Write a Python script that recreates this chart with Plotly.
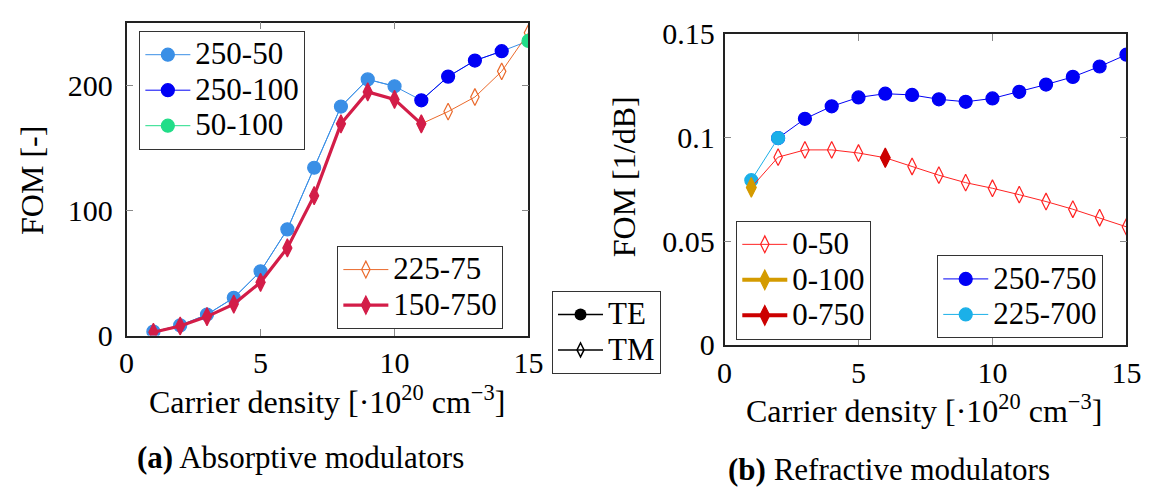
import plotly.graph_objects as go

W, H = 1162, 502

# Carrier density [1e20 cm^-3]
density = list(range(1, 16))

# (a) Absorptive modulators: best FOM at each carrier density
abs_te_fom = [3.1, 8.1, 16.8, 30.1, 51.3, 84.8, 134.0, 182.9, 204.6, 199.1,
              187.9, 206.8, 219.6, 227.1, 235.3]
abs_tm_fom = [2.6, 7.6, 15.1, 25.1, 42.5, 70.0, 111.7, 169.1, 194.6, 188.6,
              169.1, 178.9, 190.5, 211.0, 241.8]
# design giving the best FOM: (label, polarisation, first index, last index),
# listed in drawing order
abs_designs = [
    ("250-50", "TE", 0, 9),
    ("225-75", "TM", 10, 14),
    ("150-750", "TM", 0, 10),
    ("250-100", "TE", 10, 13),
    ("50-100", "TE", 14, 14),
]

# (b) Refractive modulators
ref_te_fom = [0.0794, 0.0997, 0.1090, 0.1150, 0.1193, 0.1211, 0.1205, 0.1184,
              0.1172, 0.1188, 0.1220, 0.1255, 0.1292, 0.1342, 0.1399]
ref_tm_fom = [0.0759, 0.0905, 0.0940, 0.0940, 0.0925, 0.0902, 0.0860, 0.0818,
              0.0782, 0.0755, 0.0724, 0.0691, 0.0654, 0.0613, 0.0569]
ref_designs = [
    ("250-750", "TE", 1, 14),
    ("225-700", "TE", 0, 1),
    ("0-50", "TM", 0, 14),
    ("0-100", "TM", 0, 0),
    ("0-750", "TM", 5, 5),
]

x_ticks = [0, 5, 10, 15]
abs_y_ticks = [0, 100, 200]
ref_y_ticks = [0, 0.05, 0.1, 0.15]
ref_y_ticklabels = ["0", "0.05", "0.1", "0.15"]

SERIF = "Liberation Serif"
LEG_FS = 25      # sets legend row spacing
LEG_TXT = 31     # legend glyph size

# per design: colour, marker, marker size, line width, legend box, rank in box
style = {
    "250-50": ("#3a8fe6", "circle", 13, 1, "legend", 1),
    "250-100": ("#0000f5", "circle", 13, 1, "legend", 2),
    "50-100": ("#22dd88", "circle", 13, 1, "legend", 3),
    "225-75": ("#ea6a2c", "diamond-tall-open", 12, 1, "legend2", 1),
    "150-750": ("#d31d48", "diamond-tall", 13, 3.2, "legend2", 2),
    "0-50": ("#ff2222", "diamond-tall-open", 12, 1, "legend4", 1),
    "0-100": ("#d49b00", "diamond-tall", 14, 4, "legend4", 2),
    "0-750": ("#cc0000", "diamond-tall", 14, 4, "legend4", 3),
    "250-750": ("#0000f5", "circle", 13, 1, "legend5", 1),
    "225-700": ("#1bb0e8", "circle", 13, 1, "legend5", 2),
}


def leg_text(s):
    return f'<span style="font-size:{LEG_TXT}px">{s}</span>'


def design_trace(name, i0, i1, yvals, xa, ya):
    color, symbol, size, lw, legend, rank = style[name]
    return go.Scatter(
        x=density[i0:i1 + 1], y=yvals[i0:i1 + 1],
        mode="lines+markers", name=leg_text(name),
        xaxis=xa, yaxis=ya, legend=legend, legendrank=rank,
        line=dict(color=color, width=lw),
        marker=dict(symbol=symbol, size=size, color=color,
                    line=dict(color=color, width=1.2)),
    )


fig = go.Figure()

# ---- (a) absorptive: TE envelope line underneath the design segments
fig.add_trace(go.Scatter(x=density, y=abs_te_fom, mode="lines",
                         line=dict(color=style["250-50"][0], width=1),
                         showlegend=False, xaxis="x", yaxis="y"))
for name, pol, i0, i1 in abs_designs:
    vals = abs_te_fom if pol == "TE" else abs_tm_fom
    fig.add_trace(design_trace(name, i0, i1, vals, "x", "y"))

# ---- (b) refractive
for name, pol, i0, i1 in ref_designs:
    vals = ref_te_fom if pol == "TE" else ref_tm_fom
    fig.add_trace(design_trace(name, i0, i1, vals, "x2", "y2"))

# ---- polarisation key
fig.add_trace(go.Scatter(x=[None], y=[None], mode="lines+markers", name=leg_text("TE"),
                         line=dict(color="black", width=1.5),
                         marker=dict(symbol="circle", size=12, color="black"),
                         legend="legend3", legendrank=1, xaxis="x", yaxis="y"))
fig.add_trace(go.Scatter(x=[None], y=[None], mode="lines+markers", name=leg_text("TM"),
                         line=dict(color="black", width=1.5),
                         marker=dict(symbol="diamond-tall-open", size=10, color="black",
                                     line=dict(color="black", width=1.5)),
                         legend="legend3", legendrank=2, xaxis="x", yaxis="y"))


def px(x):
    return x / W


def py(y):
    return 1 - y / H


axis_common = dict(
    showline=True, linecolor="#222222", linewidth=1.6, mirror="ticks",
    ticks="inside", ticklen=7, tickwidth=1.4, tickcolor="#8a8a8a",
    showgrid=False, zeroline=False,
    tickfont=dict(family=SERIF, size=30, color="black"),
)

legend_common = dict(
    bgcolor="white", bordercolor="#333333", borderwidth=1,
    font=dict(family=SERIF, size=LEG_FS, color="black"),
    xanchor="left", yanchor="top", itemwidth=45, tracegroupgap=0,
    itemclick=False, itemdoubleclick=False,
)

fig.update_layout(
    width=W, height=H, margin=dict(l=0, r=0, t=0, b=0),
    font=dict(family=SERIF, color="black"),
    paper_bgcolor="white", plot_bgcolor="white",
    xaxis=dict(domain=[px(121), px(531)], range=[0, 15], tickvals=x_ticks,
               anchor="y", **axis_common),
    yaxis=dict(domain=[py(342), py(7)], range=[0, 250], tickvals=abs_y_ticks,
               anchor="x", ticklabelstandoff=6, **axis_common),
    xaxis2=dict(domain=[px(731), px(1141)], range=[0, 15], tickvals=x_ticks,
                anchor="y2", **axis_common),
    yaxis2=dict(domain=[py(352), py(19)], range=[0, 0.15], tickvals=ref_y_ticks,
                ticktext=ref_y_ticklabels, anchor="x2", ticklabelstandoff=2,
                **axis_common),
    legend=dict(x=px(134), y=py(16), **legend_common),
    legend2=dict(x=px(336), y=py(246), **legend_common),
    legend3=dict(x=px(555), y=py(294), **legend_common),
    legend4=dict(x=px(743), y=py(219), **legend_common),
    legend5=dict(x=px(948), y=py(256), **legend_common),
    showlegend=True,
)

title_font = dict(family=SERIF, size=32, color="black")
annotations = [
    dict(text="Carrier density [·10<sup>20</sup> cm<sup>−3</sup>]",
         x=px(325), y=py(411)),
    dict(text="Carrier density [·10<sup>20</sup> cm<sup>−3</sup>]",
         x=px(935), y=py(421)),
    dict(text="FOM [-]", x=px(25), y=py(176), textangle=-90),
    dict(text="FOM [1/dB]", x=px(628), y=py(172), textangle=-90),
    dict(text="<b>(a)</b> Absorptive modulators", x=px(298), y=py(473),
         font=dict(family=SERIF, size=31, color="black")),
    dict(text="<b>(b)</b> Refractive modulators", x=px(899), y=py(485),
         font=dict(family=SERIF, size=31, color="black")),
]
for a in annotations:
    a.setdefault("font", title_font)
    fig.add_annotation(xref="paper", yref="paper", showarrow=False,
                       xanchor="center", yanchor="middle", **a)

fig.write_html("out.html")
